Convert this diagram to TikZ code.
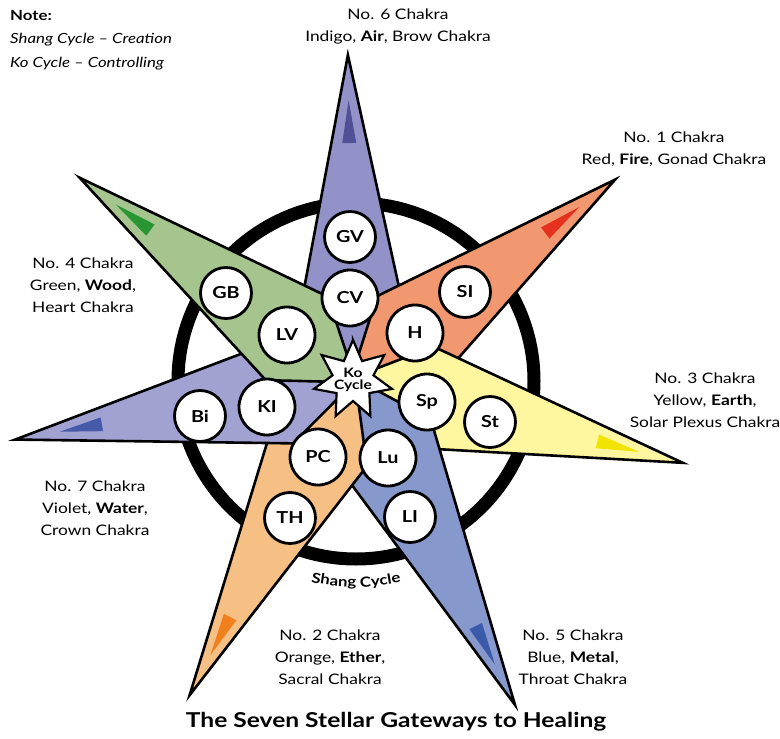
\documentclass[tikz,border=0pt]{standalone}
\usepackage{fontspec}
\setmainfont{Lato}[FakeStretch=1.2]
\usetikzlibrary{calc,decorations.text}
\definecolor{c6}{RGB}{146,146,200}
\definecolor{d6}{RGB}{80,80,150}
\definecolor{c1}{RGB}{242,152,112}
\definecolor{d1}{RGB}{228,50,30}
\definecolor{c3}{RGB}{255,246,160}
\definecolor{d3}{RGB}{240,228,0}
\definecolor{c5}{RGB}{134,152,204}
\definecolor{d5}{RGB}{60,90,170}
\definecolor{c2}{RGB}{246,192,132}
\definecolor{d2}{RGB}{240,128,30}
\definecolor{c7}{RGB}{162,162,210}
\definecolor{d7}{RGB}{70,90,170}
\definecolor{c4}{RGB}{165,196,142}
\definecolor{d4}{RGB}{40,150,50}
\newcommand{\spD}{70}
\newcommand{\spW}{52}
\newcommand{\chakraspike}[4]{%
  \filldraw[spikeline, fill=#3] ($(C)+(#1:#2)$) -- ($(C)+(#1:\spD)+(#1+90:\spW)$) -- ($(C)+(#1+180:4)$) -- ($(C)+(#1:\spD)+(#1-90:\spW)$) -- cycle;
  \fill[#4] ($(C)+(#1:{#2-45})$) -- ($(C)+(#1:{#2-88})+(#1+90:7)$) -- ($(C)+(#1:{#2-88})+(#1-90:7)$) -- cycle;
}
\begin{document}
\begin{tikzpicture}[x=1pt,y=-1pt,
  spikeline/.style={draw=black, line width=2.6pt, line join=miter, miter limit=30},
  cnode/.style={circle, draw, line width=2.8pt, fill=white, inner sep=0pt, minimum size=56pt, font=\bfseries\fontsize{16.5}{16.5}\selectfont},
  snode/.style={cnode, minimum size=51pt},
  lbl/.style={align=center, font=\fontsize{14.5}{22}\selectfont}]
\useasboundingbox (0,0) rectangle (780,739);
\coordinate (C) at (353,380);
\coordinate (R) at (356,381);
% ring
\draw[line width=13pt] (R) circle[radius=178];
% spikes
\chakraspike{-90.9}{325}{c6}{d6}
\chakraspike{-37.4}{330}{c1}{d1}
\chakraspike{14.1}{340}{c3}{d3}
\chakraspike{63.5}{363}{c5}{d5}
\chakraspike{117.4}{355}{c2}{d2}
\chakraspike{170}{343}{c7}{d7}
\chakraspike{-143.5}{340}{c4}{d4}
% circles
\node[snode] (GV) at (350,237) {GV};
\node[cnode] (CV) at (350,298) {CV};
\node[snode] (SI) at (465,292) {SI};
\node[cnode] (H) at (415,333) {H};
\node[cnode] (Sp) at (427,402) {Sp};
\node[snode] (St) at (490,422) {St};
\node[cnode] (Lu) at (388,458) {Lu};
\node[snode] (LI) at (410,517) {LI};
\node[cnode] (PC) at (318,457) {PC};
\node[snode] (TH) at (290,518) {TH};
\node[cnode] (KI) at (267,407) {KI};
\node[snode] (Bi) at (200,416) {Bi};
\node[cnode] (LV) at (287,335) {LV};
\node[snode] (GB) at (226,293) {GB};
% center star
\filldraw[draw=black, fill=white, line width=2.2pt, line join=miter] ($(C)+(-90:40)$)
  \foreach \i in {0,...,6} { -- ($(C)+(-90+\i*51.4286+25.7143:21)$) -- ($(C)+(-90+\i*51.4286+51.4286:40)$) } -- cycle;
\node[align=center, font=\bfseries\fontsize{13}{12}\selectfont, inner sep=0pt] (kotext) at (C) {Ko\\Cycle};
% Shang cycle text
\path[decorate, decoration={text along path, text={|\bfseries\fontsize{14}{14}\selectfont|Shang Cycle}, text align=center}]
  ($(R)+(115:206)$) arc[start angle=115, end angle=65, radius=206];
% labels
\node[lbl] (l6) at (398,26) {No. 6 Chakra\\Indigo, \textbf{Air}, Brow Chakra};
\node[lbl] (l1) at (674,149) {No. 1 Chakra\\Red, \textbf{Fire}, Gonad Chakra};
\node[lbl] (l4) at (83,285) {No. 4 Chakra\\Green, \textbf{Wood},\\Heart Chakra};
\node[lbl] (l3) at (705,400) {No. 3 Chakra\\Yellow, \textbf{Earth},\\Solar Plexus Chakra};
\node[lbl] (l7) at (95,508) {No. 7 Chakra\\Violet, \textbf{Water},\\Crown Chakra};
\node[lbl] (l2) at (330,657) {No. 2 Chakra\\Orange, \textbf{Ether},\\Sacral Chakra};
\node[lbl] (l5) at (573,657) {No. 5 Chakra\\Blue, \textbf{Metal},\\Throat Chakra};
\node[font=\bfseries\fontsize{20.5}{24}\selectfont] (title) at (396,722) {The Seven Stellar Gateways to Healing};
\node[anchor=north west, align=left, inner sep=0pt, font=\fontsize{14}{23.5}\selectfont] (note) at (10,10) {\textbf{Note:}\\\textit{Shang Cycle -- Creation}\\\textit{Ko Cycle -- Controlling}};
\end{tikzpicture}
\end{document}
